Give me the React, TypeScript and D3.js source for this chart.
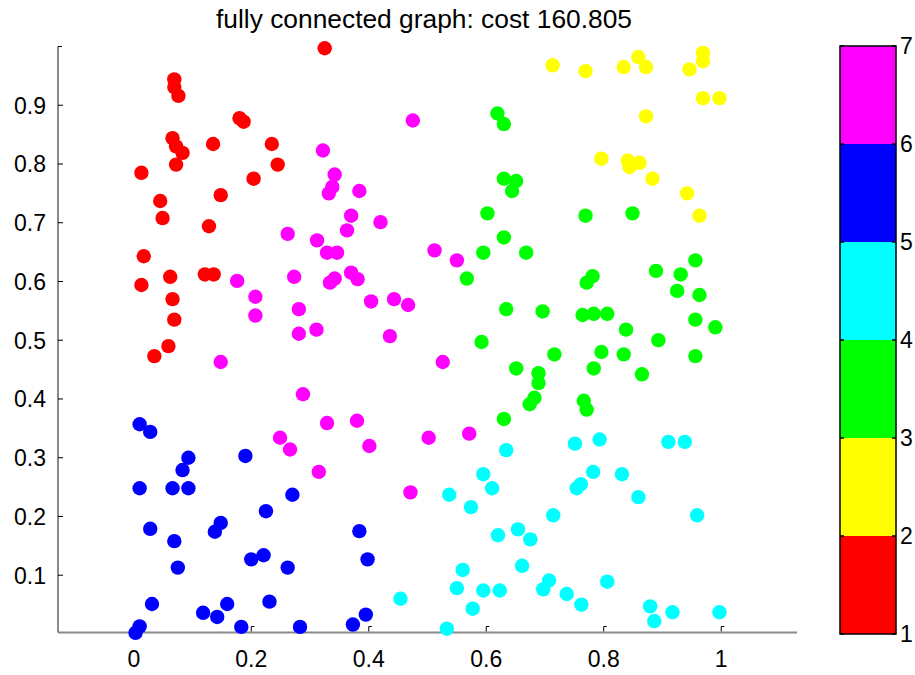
import React from "react";
import * as d3 from "d3";

// Cluster members as [x, y] pairs, one array per cluster label (1..6)
const cluster1: [number, number][] = [
  [0.325, 0.997], [0.069, 0.944], [0.069, 0.931], [0.076, 0.916], [0.18, 0.878], [0.187, 0.872],
  [0.066, 0.844], [0.072, 0.83], [0.083, 0.819], [0.135, 0.834], [0.235, 0.834], [0.072, 0.799],
  [0.245, 0.799], [0.013, 0.785], [0.204, 0.775], [0.148, 0.747], [0.045, 0.737], [0.049, 0.708],
  [0.128, 0.694], [0.017, 0.643], [0.062, 0.608], [0.013, 0.594], [0.121, 0.612], [0.136, 0.612],
  [0.066, 0.57], [0.069, 0.535], [0.059, 0.49], [0.035, 0.473],
];
const cluster2: [number, number][] = [
  [0.713, 0.968], [0.769, 0.958], [0.834, 0.965], [0.859, 0.982], [0.872, 0.965], [0.946, 0.961],
  [0.969, 0.989], [0.969, 0.975], [0.969, 0.912], [0.997, 0.912], [0.872, 0.881], [0.796, 0.809],
  [0.841, 0.806], [0.844, 0.795], [0.861, 0.802], [0.883, 0.775], [0.942, 0.75], [0.963, 0.712],
];
const cluster3: [number, number][] = [
  [0.619, 0.886], [0.63, 0.868], [0.63, 0.775], [0.651, 0.771], [0.644, 0.754], [0.602, 0.716],
  [0.63, 0.675], [0.595, 0.649], [0.668, 0.649], [0.567, 0.605], [0.634, 0.553], [0.696, 0.549],
  [0.592, 0.497], [0.716, 0.476], [0.651, 0.452], [0.689, 0.444], [0.689, 0.427], [0.682, 0.402],
  [0.674, 0.391], [0.63, 0.366], [0.769, 0.712], [0.849, 0.716], [0.956, 0.636], [0.889, 0.618],
  [0.931, 0.612], [0.781, 0.609], [0.771, 0.598], [0.925, 0.584], [0.963, 0.577], [0.764, 0.543],
  [0.783, 0.545], [0.806, 0.545], [0.956, 0.535], [0.99, 0.522], [0.838, 0.518], [0.893, 0.5],
  [0.796, 0.48], [0.834, 0.476], [0.956, 0.473], [0.783, 0.452], [0.865, 0.442], [0.766, 0.397],
  [0.771, 0.382],
];
const cluster4: [number, number][] = [
  [0.634, 0.313], [0.595, 0.272], [0.61, 0.248], [0.537, 0.237], [0.574, 0.216], [0.62, 0.168],
  [0.654, 0.178], [0.675, 0.161], [0.661, 0.116], [0.56, 0.109], [0.55, 0.078], [0.595, 0.074],
  [0.623, 0.074], [0.697, 0.076], [0.707, 0.091], [0.577, 0.043], [0.454, 0.06], [0.533, 0.009],
  [0.714, 0.202], [0.751, 0.324], [0.793, 0.331], [0.91, 0.327], [0.938, 0.327], [0.782, 0.276],
  [0.831, 0.272], [0.761, 0.255], [0.754, 0.248], [0.859, 0.233], [0.959, 0.202], [0.737, 0.068],
  [0.762, 0.05], [0.806, 0.089], [0.879, 0.047], [0.886, 0.022], [0.917, 0.037], [0.997, 0.037],
];
const cluster5: [number, number][] = [
  [0.01, 0.357], [0.028, 0.344], [0.093, 0.3], [0.083, 0.279], [0.19, 0.303], [0.01, 0.248],
  [0.066, 0.248], [0.093, 0.248], [0.27, 0.237], [0.225, 0.209], [0.148, 0.189], [0.138, 0.174],
  [0.028, 0.179], [0.069, 0.158], [0.075, 0.113], [0.2, 0.127], [0.221, 0.134], [0.262, 0.113],
  [0.031, 0.051], [0.118, 0.036], [0.142, 0.029], [0.159, 0.051], [0.231, 0.055], [0.01, 0.013],
  [0.003, 0.002], [0.183, 0.012], [0.283, 0.012], [0.384, 0.175], [0.398, 0.127], [0.395, 0.033],
  [0.373, 0.016],
];
const cluster6: [number, number][] = [
  [0.475, 0.874], [0.322, 0.823], [0.342, 0.782], [0.338, 0.761], [0.332, 0.75], [0.384, 0.754],
  [0.37, 0.712], [0.42, 0.701], [0.363, 0.687], [0.262, 0.681], [0.312, 0.67], [0.329, 0.649],
  [0.346, 0.649], [0.37, 0.615], [0.381, 0.604], [0.342, 0.605], [0.334, 0.598], [0.273, 0.608],
  [0.176, 0.601], [0.207, 0.574], [0.207, 0.542], [0.281, 0.553], [0.281, 0.511], [0.311, 0.518],
  [0.404, 0.566], [0.443, 0.57], [0.467, 0.56], [0.436, 0.507], [0.512, 0.653], [0.55, 0.636],
  [0.526, 0.463], [0.148, 0.463], [0.288, 0.408], [0.329, 0.359], [0.38, 0.363], [0.401, 0.32],
  [0.502, 0.334], [0.571, 0.341], [0.249, 0.334], [0.266, 0.314], [0.315, 0.276], [0.471, 0.241],
];

const clusters = [cluster1, cluster2, cluster3, cluster4, cluster5, cluster6];
const clusterColors = ["#ff0000", "#ffff00", "#00ff00", "#00ffff", "#0000ff", "#ff00ff"];

const xTicks = [0, 0.2, 0.4, 0.6, 0.8, 1];
const yTicks = [0.1, 0.2, 0.3, 0.4, 0.5, 0.6, 0.7, 0.8, 0.9];
const colorbarTicks = [1, 2, 3, 4, 5, 6, 7];
const title = "fully connected graph: cost 160.805";

const W = 915;
const H = 675;
const plot = { left: 58, right: 797, top: 46.5, bottom: 632.5 };
const bar = { left: 840, right: 896, top: 46, bottom: 634 };
const FONT = "'Liberation Sans', Arial, Helvetica, sans-serif";

export default function App() {
  const x = d3.scaleLinear().domain([-0.129, 1.129]).range([plot.left, plot.right]);
  const y = d3.scaleLinear().domain([0.0025, 1]).range([plot.bottom, plot.top]);
  const cb = d3.scaleLinear().domain([1, 7]).range([bar.bottom, bar.top]);

  const points = clusters.flatMap((pts, ci) =>
    pts.map((p, i) => ({ key: `${ci}-${i}`, x: p[0], y: p[1], color: clusterColors[ci] }))
  );

  return (
    <svg
      width={W}
      height={H}
      style={{ position: "absolute", left: 0, top: 0, background: "#fff" }}
      fontFamily={FONT}
    >
      <rect x={0} y={0} width={W} height={H} fill="#fff" />

      {/* title */}
      <text
        x={424}
        y={28}
        textAnchor="middle"
        fontSize={25}
        textLength={416}
        lengthAdjust="spacingAndGlyphs"
        fill="#000"
      >
        {title}
      </text>

      {/* axes */}
      <line x1={plot.left} y1={plot.top} x2={plot.left} y2={plot.bottom} stroke="#8a8a8a" strokeWidth={2} />
      <line x1={plot.left} y1={plot.bottom} x2={plot.right} y2={plot.bottom} stroke="#8a8a8a" strokeWidth={2} />
      <line x1={plot.left} y1={plot.top} x2={plot.left + 4} y2={plot.top} stroke="#000" strokeWidth={1} />

      {yTicks.map((t) => (
        <g key={`y${t}`}>
          <line x1={plot.left} x2={plot.left + 5} y1={y(t)} y2={y(t)} stroke="#000" strokeWidth={1} />
          <text x={46} y={y(t)} dy="0.36em" textAnchor="end" fontSize={23} fill="#000">
            {d3.format("")(t)}
          </text>
        </g>
      ))}

      {xTicks.map((t) => (
        <g key={`x${t}`}>
          <path
            d={`M${x(t)},${plot.bottom - 1}V${plot.bottom - 6}H${x(t) + 3}`}
            fill="none"
            stroke="#000"
            strokeWidth={1}
          />
          <text x={x(t)} y={667} textAnchor="middle" fontSize={23} fill="#000">
            {d3.format("")(t)}
          </text>
        </g>
      ))}

      {/* scatter */}
      {points.map((p) => (
        <circle key={p.key} cx={x(p.x)} cy={y(p.y)} r={7.2} fill={p.color} />
      ))}

      {/* colorbar */}
      {clusterColors.map((c, i) => (
        <rect
          key={c}
          x={bar.left}
          y={cb(i + 2)}
          width={bar.right - bar.left}
          height={cb(i + 1) - cb(i + 2)}
          fill={c}
        />
      ))}
      <rect
        x={bar.left}
        y={bar.top}
        width={bar.right - bar.left}
        height={bar.bottom - bar.top}
        fill="none"
        stroke="#000"
        strokeWidth={1.5}
      />
      {colorbarTicks.map((t) => (
        <g key={`c${t}`}>
          <line x1={bar.left} x2={bar.left + 4} y1={cb(t)} y2={cb(t)} stroke="#000" strokeWidth={1.5} />
          <line x1={bar.right - 4} x2={bar.right} y1={cb(t)} y2={cb(t)} stroke="#000" strokeWidth={1.5} />
          <text x={900} y={cb(t)} dy="0.36em" textAnchor="start" fontSize={23} fill="#000">
            {t}
          </text>
        </g>
      ))}
    </svg>
  );
}
